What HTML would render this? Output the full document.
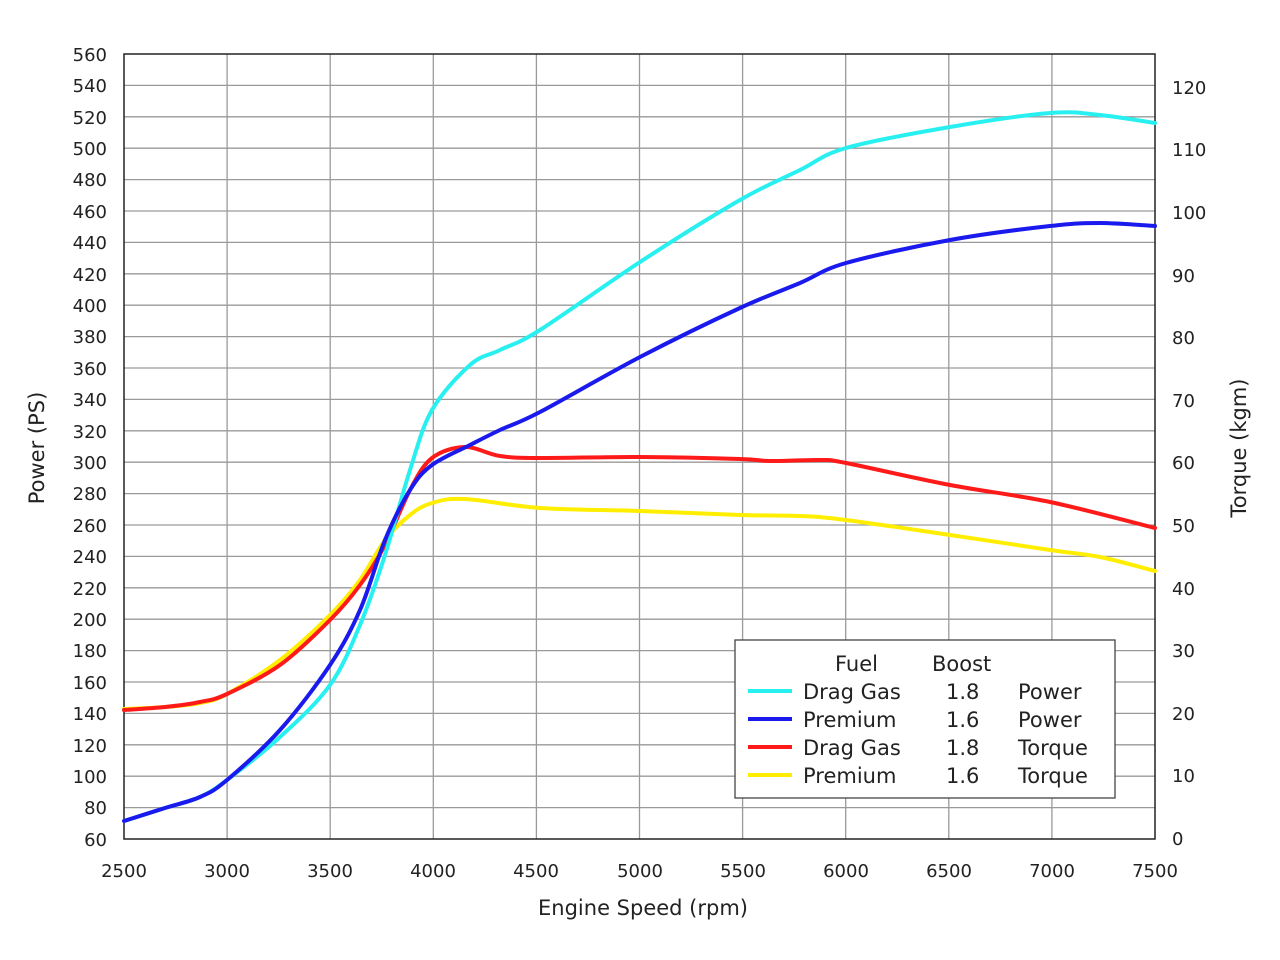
<!DOCTYPE html>
<html><head><meta charset="utf-8"><style>body{margin:0;background:#fff}svg{display:block}text{font-family:"DejaVu Sans","Liberation Sans",sans-serif;fill:#222}</style></head><body>
<svg id="s" width="1280" height="960" xmlns="http://www.w3.org/2000/svg">
<rect x="0" y="0" width="1280" height="960" fill="#fff"/>
<g stroke="#9a9a9a" stroke-width="1.3">
<line x1="227.1" y1="54" x2="227.1" y2="839"/><line x1="330.2" y1="54" x2="330.2" y2="839"/><line x1="433.3" y1="54" x2="433.3" y2="839"/><line x1="536.4" y1="54" x2="536.4" y2="839"/><line x1="639.5" y1="54" x2="639.5" y2="839"/><line x1="742.6" y1="54" x2="742.6" y2="839"/><line x1="845.7" y1="54" x2="845.7" y2="839"/><line x1="948.8" y1="54" x2="948.8" y2="839"/><line x1="1051.9" y1="54" x2="1051.9" y2="839"/>
<line x1="124" y1="85.4" x2="1155" y2="85.4"/><line x1="124" y1="116.8" x2="1155" y2="116.8"/><line x1="124" y1="148.2" x2="1155" y2="148.2"/><line x1="124" y1="179.6" x2="1155" y2="179.6"/><line x1="124" y1="211" x2="1155" y2="211"/><line x1="124" y1="242.4" x2="1155" y2="242.4"/><line x1="124" y1="273.8" x2="1155" y2="273.8"/><line x1="124" y1="305.2" x2="1155" y2="305.2"/><line x1="124" y1="336.6" x2="1155" y2="336.6"/><line x1="124" y1="368" x2="1155" y2="368"/><line x1="124" y1="399.4" x2="1155" y2="399.4"/><line x1="124" y1="430.8" x2="1155" y2="430.8"/><line x1="124" y1="462.2" x2="1155" y2="462.2"/><line x1="124" y1="493.6" x2="1155" y2="493.6"/><line x1="124" y1="525" x2="1155" y2="525"/><line x1="124" y1="556.4" x2="1155" y2="556.4"/><line x1="124" y1="587.8" x2="1155" y2="587.8"/><line x1="124" y1="619.2" x2="1155" y2="619.2"/><line x1="124" y1="650.6" x2="1155" y2="650.6"/><line x1="124" y1="682" x2="1155" y2="682"/><line x1="124" y1="713.4" x2="1155" y2="713.4"/><line x1="124" y1="744.8" x2="1155" y2="744.8"/><line x1="124" y1="776.2" x2="1155" y2="776.2"/><line x1="124" y1="807.6" x2="1155" y2="807.6"/>
</g>
<rect x="124" y="54" width="1031" height="785" fill="none" stroke="#222" stroke-width="1.5"/>
<g font-size="18" text-anchor="end">
<text x="107" y="61">560</text><text x="107" y="92">540</text><text x="107" y="124">520</text><text x="107" y="155">500</text><text x="107" y="186">480</text><text x="107" y="218">460</text><text x="107" y="249">440</text><text x="107" y="281">420</text><text x="107" y="312">400</text><text x="107" y="343">380</text><text x="107" y="375">360</text><text x="107" y="406">340</text><text x="107" y="438">320</text><text x="107" y="469">300</text><text x="107" y="500">280</text><text x="107" y="532">260</text><text x="107" y="563">240</text><text x="107" y="595">220</text><text x="107" y="626">200</text><text x="107" y="657">180</text><text x="107" y="689">160</text><text x="107" y="720">140</text><text x="107" y="752">120</text><text x="107" y="783">100</text><text x="107" y="814">80</text><text x="107" y="846">60</text>
</g>
<g font-size="18">
<text x="1172" y="94">120</text><text x="1172" y="156">110</text><text x="1172" y="219">100</text><text x="1172" y="282">90</text><text x="1172" y="344">80</text><text x="1172" y="407">70</text><text x="1172" y="469">60</text><text x="1172" y="532">50</text><text x="1172" y="595">40</text><text x="1172" y="657">30</text><text x="1172" y="720">20</text><text x="1172" y="782">10</text><text x="1172" y="845">0</text>
</g>
<g font-size="18" text-anchor="middle">
<text x="124" y="877">2500</text><text x="227" y="877">3000</text><text x="330" y="877">3500</text><text x="433" y="877">4000</text><text x="536" y="877">4500</text><text x="640" y="877">5000</text><text x="743" y="877">5500</text><text x="846" y="877">6000</text><text x="949" y="877">6500</text><text x="1052" y="877">7000</text><text x="1155" y="877">7500</text>
<text x="643" y="915" font-size="21">Engine Speed (rpm)</text>
<text transform="translate(44,448) rotate(-90)" font-size="21">Power (PS)</text>
<text transform="translate(1246,448) rotate(-90)" font-size="21">Torque (kgm)</text>
</g>
<g id="curves" fill="none" stroke-width="4" stroke-linejoin="round" stroke-linecap="round">
<polyline stroke="#ffee00" points="124,709 165,707 200,703 227,694 280,660 330,615 360,580 385,540 410,515 432,503 465,499 540,508 640,511 740,515 800,516 846,520 950,535 1050,550 1100,557 1155,571"/>
<polyline stroke="#ff1a1a" points="124,710 165,707 200,702 227,694 280,665 330,620 360,585 385,545 410,490 432,458 465,447 500,456 540,458 640,457 740,459 770,461 820,460 846,463 950,485 1050,502 1155,528"/>
<polyline stroke="#28f0f0" points="124,821 165,808 200,797 227,780 280,737 330,685 360,625 385,555 410,470 432,410 470,365 500,350 540,330 640,262 740,200 800,170 846,148 950,127 1050,113 1100,115 1155,123"/>
<polyline stroke="#1a1aee" points="124,821 165,808 200,797 227,780 280,730 330,665 360,610 385,540 410,490 432,465 470,445 500,430 540,412 640,357 740,308 800,283 846,263 950,240 1050,226 1100,223 1155,226"/>
</g>
<rect x="735" y="640" width="380" height="158" fill="#fff" stroke="#444" stroke-width="1.3"/>
<g font-size="21">
<text x="835" y="671">Fuel</text><text x="932" y="671">Boost</text>
<text x="803" y="699">Drag Gas</text><text x="946" y="699">1.8</text><text x="1018" y="699">Power</text>
<text x="803" y="727">Premium</text><text x="946" y="727">1.6</text><text x="1018" y="727">Power</text>
<text x="803" y="755">Drag Gas</text><text x="946" y="755">1.8</text><text x="1018" y="755">Torque</text>
<text x="803" y="783">Premium</text><text x="946" y="783">1.6</text><text x="1018" y="783">Torque</text>
</g>
<g stroke-width="4">
<line x1="748" y1="691" x2="792" y2="691" stroke="#28f0f0"/>
<line x1="748" y1="719" x2="792" y2="719" stroke="#1a1aee"/>
<line x1="748" y1="747" x2="792" y2="747" stroke="#ff1a1a"/>
<line x1="748" y1="775" x2="792" y2="775" stroke="#ffee00"/>
</g>
</svg>
<script>
(function(){
var ns="http://www.w3.org/2000/svg";
var pl=document.querySelectorAll("#curves polyline");
for(var k=0;k<pl.length;k++){
var p=pl[k].getAttribute("points").trim().split(/\s+/).map(function(s){return s.split(",").map(Number);});
var d="M"+p[0][0]+","+p[0][1];
for(var i=0;i<p.length-1;i++){
var p0=p[i-1]||p[i],p1=p[i],p2=p[i+1],p3=p[i+2]||p2;
var c1x=p1[0]+(p2[0]-p0[0])/6,c1y=p1[1]+(p2[1]-p0[1])/6;
var c2x=p2[0]-(p3[0]-p1[0])/6,c2y=p2[1]-(p3[1]-p1[1])/6;
d+=" C"+c1x.toFixed(1)+","+c1y.toFixed(1)+" "+c2x.toFixed(1)+","+c2y.toFixed(1)+" "+p2[0]+","+p2[1];
}
var path=document.createElementNS(ns,"path");
path.setAttribute("d",d);path.setAttribute("stroke",pl[k].getAttribute("stroke"));
pl[k].parentNode.replaceChild(path,pl[k]);
}
})();
</script>
</body></html>
